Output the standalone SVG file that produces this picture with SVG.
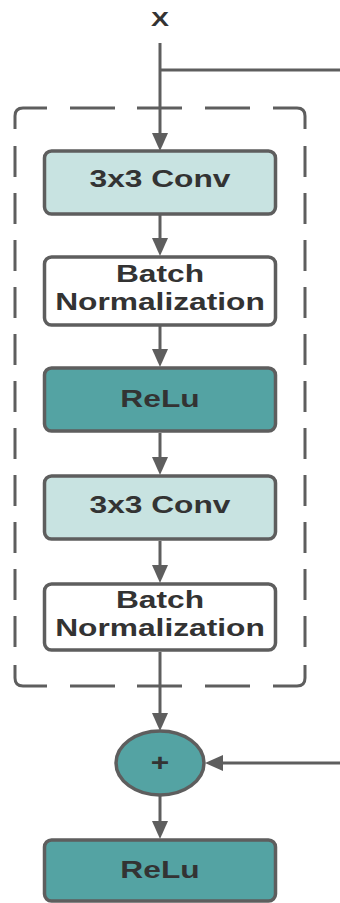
<svg xmlns="http://www.w3.org/2000/svg" width="340" height="903" viewBox="0 0 340 903">
<defs>
<style>
.box{stroke:#5e5e5e;stroke-width:3.5}
.light{fill:#c8e3e1}
.teal{fill:#54a3a3}
.white{fill:#ffffff}
.lbl{font-family:"Liberation Sans",Arial,sans-serif;font-weight:bold;font-size:23.5px;fill:#333333;text-anchor:middle}
.edge{stroke:#5e5e5e;stroke-width:3;fill:none}
.dash{stroke:#5e5e5e;stroke-width:3;fill:none}
</style>
<marker id="arr" markerUnits="userSpaceOnUse" viewBox="0 0 18 16" refX="12" refY="8" markerWidth="18" markerHeight="16" orient="auto">
<path d="M0,0 L18,8 L0,16 z" fill="#5e5e5e"/>
</marker>
</defs>
<rect width="340" height="903" fill="#ffffff"/>

<g id="group-box">
<path class="dash" d="M15,129 L15,116 Q15,108 23,108 L47,108"/>
<path class="dash" d="M70,108 L115,108 M137,108 L182,108 M205,108 L250,108"/>
<path class="dash" d="M273,108 L297,108 Q305,108 305,116 L305,129"/>
<line class="dash" x1="15" y1="146" x2="15" y2="649" stroke-dasharray="31 16"/>
<line class="dash" x1="305" y1="146" x2="305" y2="649" stroke-dasharray="31 16"/>
<path class="dash" d="M15,665 L15,678 Q15,686 23,686 L47,686"/>
<path class="dash" d="M70,686 L115,686 M137,686 L182,686 M205,686 L250,686"/>
<path class="dash" d="M273,686 L297,686 Q305,686 305,678 L305,665"/>
</g>

<g id="connectors">
<line class="edge" x1="160" y1="43" x2="160" y2="145" marker-end="url(#arr)"/>
<line class="edge" x1="160" y1="70" x2="340" y2="70"/>
<line class="edge" x1="160" y1="215" x2="160" y2="250" marker-end="url(#arr)"/>
<line class="edge" x1="160" y1="326" x2="160" y2="361" marker-end="url(#arr)"/>
<line class="edge" x1="160" y1="433" x2="160" y2="469" marker-end="url(#arr)"/>
<line class="edge" x1="160" y1="541" x2="160" y2="577" marker-end="url(#arr)"/>
<line class="edge" x1="160" y1="652" x2="160" y2="725" marker-end="url(#arr)"/>
<line class="edge" x1="160" y1="796" x2="160" y2="833" marker-end="url(#arr)"/>
<line class="edge" x1="340" y1="763" x2="211" y2="763" marker-end="url(#arr)"/>
</g>

<g id="input-x">
<text class="lbl" font-size="20" style="font-size:20px" transform="translate(160,26) scale(1.35,1)">X</text>
</g>

<g id="conv1">
<rect class="box light" x="44.5" y="151" width="231" height="63" rx="7"/>
<text class="lbl" transform="translate(160,187) scale(1.35,1)">3x3 Conv</text>
</g>

<g id="bn1">
<rect class="box white" x="44.5" y="257" width="231" height="68" rx="7"/>
<text class="lbl" transform="translate(160,282) scale(1.35,1)">Batch</text>
<text class="lbl" transform="translate(160,310) scale(1.35,1)">Normalization</text>
</g>

<g id="relu1">
<rect class="box teal" x="44.5" y="368" width="231" height="63" rx="7"/>
<text class="lbl" transform="translate(160,407) scale(1.35,1)">ReLu</text>
</g>

<g id="conv2">
<rect class="box light" x="44.5" y="476" width="231" height="63" rx="7"/>
<text class="lbl" transform="translate(160,513) scale(1.35,1)">3x3 Conv</text>
</g>

<g id="bn2">
<rect class="box white" x="44.5" y="584" width="231" height="66" rx="7"/>
<text class="lbl" transform="translate(160,608) scale(1.35,1)">Batch</text>
<text class="lbl" transform="translate(160,636) scale(1.35,1)">Normalization</text>
</g>

<g id="add">
<ellipse class="box teal" cx="160" cy="763" rx="44" ry="32"/>
<text class="lbl" transform="translate(160,771) scale(1.35,1)">+</text>
</g>

<g id="relu2">
<rect class="box teal" x="44.5" y="840" width="231" height="61" rx="7"/>
<text class="lbl" transform="translate(160,878) scale(1.35,1)">ReLu</text>
</g>
</svg>
